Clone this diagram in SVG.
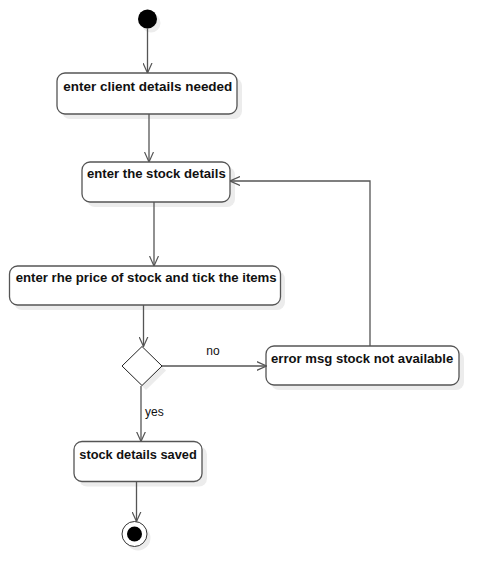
<svg xmlns="http://www.w3.org/2000/svg" width="499" height="587" viewBox="0 0 499 587">
<style>
.node rect.box{fill:#fff;stroke:#555;stroke-width:1.3}
.shadow{fill:#ececec}
.lbl{font-family:"Liberation Sans",Arial,sans-serif;font-size:13.4px;font-weight:bold;fill:#111}
.edge{fill:none;stroke:#555;stroke-width:1.3}
.elbl{font-family:"Liberation Sans",Arial,sans-serif;font-size:12px;fill:#111}
</style>
<defs>
<marker id="arr" viewBox="0 0 10 10" refX="10" refY="5" markerWidth="10" markerHeight="10" markerUnits="userSpaceOnUse" orient="auto">
<path d="M0,0.5 L10,5 L0,9.5" fill="none" stroke="#555" stroke-width="1.2"/>
</marker>
</defs>
<rect width="499" height="587" fill="#fff"/>
<g id="start" class="node">
<circle cx="151" cy="23" r="9.5" fill="#ececec"/>
<circle cx="147.5" cy="19" r="9.5" fill="#000"/>
</g>
<g id="n1" class="node">
<rect class="shadow" x="62" y="78" width="180" height="41" rx="8"/>
<rect class="box" x="57" y="73" width="180" height="41" rx="8"/>
<text class="lbl" x="63.3" y="91" textLength="169" lengthAdjust="spacingAndGlyphs">enter client details needed</text>
</g>
<g id="n2" class="node">
<rect class="shadow" x="87" y="167" width="148" height="40" rx="8"/>
<rect class="box" x="82" y="162" width="148" height="40" rx="8"/>
<text class="lbl" x="87" y="178" textLength="138.7" lengthAdjust="spacingAndGlyphs">enter the stock details</text>
</g>
<g id="n3" class="node">
<rect class="shadow" x="14" y="271" width="271" height="39" rx="8"/>
<rect class="box" x="9.5" y="266" width="271" height="39" rx="8"/>
<text class="lbl" x="15.7" y="282" textLength="261" lengthAdjust="spacingAndGlyphs">enter rhe price of stock and tick the items</text>
</g>
<g id="decision" class="node">
<polygon points="146,351 166,370.5 146,390 126,370.5" fill="#ececec"/>
<polygon points="142,346.5 162,366 142,385.5 122,366" fill="#fff" stroke="#222" stroke-width="1"/>
</g>
<g id="n4" class="node">
<rect class="shadow" x="271" y="351" width="193" height="39" rx="8"/>
<rect class="box" x="266" y="346" width="193" height="39" rx="8"/>
<text class="lbl" x="271" y="363" textLength="182.3" lengthAdjust="spacingAndGlyphs">error msg stock not available</text>
</g>
<g id="n5" class="node">
<rect class="shadow" x="79" y="446.5" width="128" height="40" rx="8"/>
<rect class="box" x="74" y="441.5" width="128" height="40" rx="8"/>
<text class="lbl" x="79.3" y="458.5" textLength="117.4" lengthAdjust="spacingAndGlyphs">stock details saved</text>
</g>
<g id="end" class="node">
<circle cx="138" cy="538" r="12.5" fill="#ececec"/>
<circle cx="134.5" cy="534" r="12.5" fill="#fff" stroke="#333" stroke-width="1"/>
<circle cx="134.5" cy="534" r="7.5" fill="#000"/>
</g>
<g id="connectors">
<path class="edge" d="M147.5,28 V73" marker-end="url(#arr)"/>
<path class="edge" d="M149,114 V162" marker-end="url(#arr)"/>
<path class="edge" d="M154,202 V266" marker-end="url(#arr)"/>
<path class="edge" d="M143.5,305 V346.5" marker-end="url(#arr)"/>
<path class="edge" d="M162,366 H266.5" marker-end="url(#arr)"/>
<path class="edge" d="M370,346 V181 H230" marker-end="url(#arr)"/>
<path class="edge" d="M141,386 V441.5" marker-end="url(#arr)"/>
<path class="edge" d="M136.5,481 V521.5" marker-end="url(#arr)"/>
<text class="elbl" x="213" y="355" text-anchor="middle">no</text>
<text class="elbl" x="145" y="416">yes</text>
</g>
</svg>
